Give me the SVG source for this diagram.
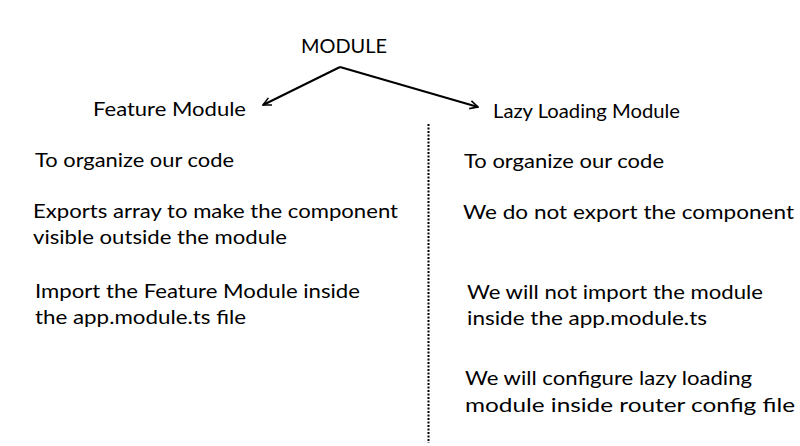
<svg xmlns="http://www.w3.org/2000/svg" width="800" height="446" viewBox="0 0 800 446">
<style>
text{font-family:Lato,"Open Sans","Liberation Sans",sans-serif;font-size:20px;fill:#000}
.c{stroke:#000;stroke-width:2;fill:none}
.d{stroke:#000;stroke-width:2;stroke-dasharray:2 1.5;fill:none}
</style>
<defs>
<marker id="ah" viewBox="0 0 10 10" refX="9" refY="5" markerWidth="10" markerHeight="10" markerUnits="userSpaceOnUse" orient="auto">
<path d="M1,1 L9,5 L1,9" fill="none" stroke="#000" stroke-width="1.6"/>
</marker>
</defs>
<rect width="800" height="446" fill="#fff"/>
<g id="module"><text x="301" y="53" textLength="86" lengthAdjust="spacingAndGlyphs">MODULE</text></g>
<g id="feature-module">
<text x="93" y="116" textLength="153" lengthAdjust="spacingAndGlyphs">Feature Module</text>
<text x="35" y="167" textLength="199" lengthAdjust="spacingAndGlyphs">To organize our code</text>
<text x="33" y="218" textLength="365" lengthAdjust="spacingAndGlyphs">Exports array to make the component</text>
<text x="33" y="244" textLength="254" lengthAdjust="spacingAndGlyphs">visible outside the module</text>
<text x="35" y="298" textLength="325" lengthAdjust="spacingAndGlyphs">Import the Feature Module inside</text>
<text x="35" y="324" textLength="211" lengthAdjust="spacingAndGlyphs">the app.module.ts file</text>
</g>
<g id="lazy-loading-module">
<text x="493" y="118" textLength="187" lengthAdjust="spacingAndGlyphs">Lazy Loading Module</text>
<text x="464" y="168" textLength="200" lengthAdjust="spacingAndGlyphs">To organize our code</text>
<text x="463" y="219" textLength="331" lengthAdjust="spacingAndGlyphs">We do not export the component</text>
<text x="467" y="299" textLength="296" lengthAdjust="spacingAndGlyphs">We will not import the module</text>
<text x="467" y="325" textLength="240" lengthAdjust="spacingAndGlyphs">inside the app.module.ts</text>
<text x="465" y="385" textLength="287" lengthAdjust="spacingAndGlyphs">We will configure lazy loading</text>
<text x="465" y="412" textLength="330" lengthAdjust="spacingAndGlyphs">module inside router config file</text>
</g>
<g id="connectors">
<line class="c" x1="340" y1="67" x2="263" y2="105" marker-end="url(#ah)"/>
<line class="c" x1="340" y1="67" x2="478" y2="107" marker-end="url(#ah)"/>
<line class="d" x1="428.5" y1="124" x2="428.5" y2="443"/>
</g>
</svg>
